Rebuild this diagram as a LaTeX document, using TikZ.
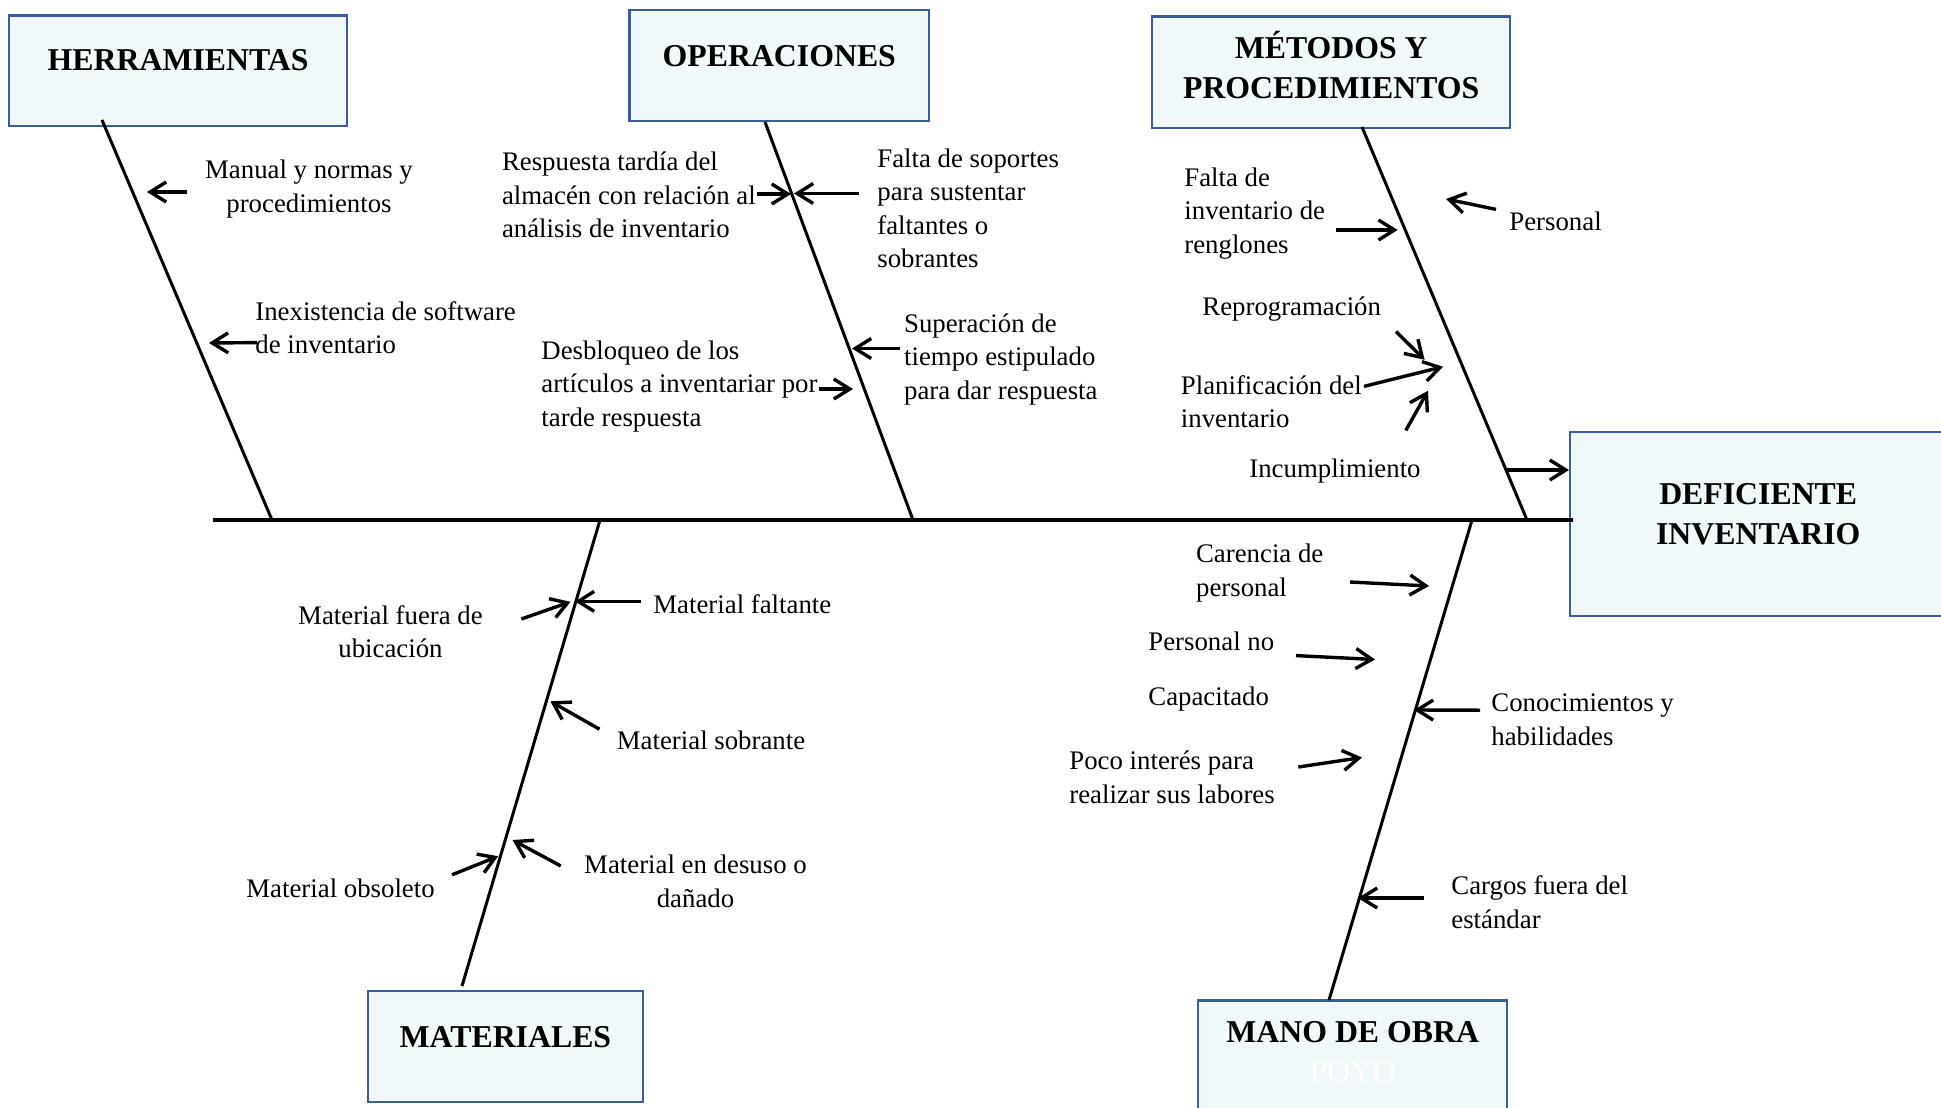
\documentclass[tikz,border=0pt]{standalone}
\usepackage{fontspec}
\setmainfont{Liberation Serif}
\usetikzlibrary{arrows.meta}
\definecolor{boxfill}{RGB}{240,248,250}
\definecolor{boxline}{RGB}{61,93,154}
\newcommand\hdfont{\fontsize{15.9}{20}\selectfont\bfseries}
\newcommand\hdbox[4]{\parbox[c][#2][t]{#1}{\centering\hdfont\vspace*{#3}\strut #4}}
\tikzset{
  catbox/.style={draw=boxline, fill=boxfill, line width=1.2pt, inner sep=0pt, anchor=north west},
  lbl/.style={font=\fontsize{13.4}{16.75}\selectfont, inner sep=0pt, align=left, anchor=north west, yshift=-2.5pt, execute at begin node=\strut},
  lblc/.style={lbl, align=center, anchor=north},
  bone/.style={line width=1.5pt},
  spine/.style={line width=1.8pt},
  arr/.style={line width=1.7pt, -{Straight Barb[length=8pt,width=10pt]}}
}
\begin{document}
\begin{tikzpicture}[x=0.5pt,y=-0.5pt]
\useasboundingbox (0,0) rectangle (1941,1107);
% category boxes
\node[catbox] (herr) at (8,14.5) {\hdbox{169pt}{55.25pt}{13.5pt}{HERRAMIENTAS}};
\node[catbox] (oper) at (628.4,8.6) {\hdbox{149.7pt}{55.6pt}{14.4pt}{OPERACIONES}};
\node[catbox] (meto) at (1151,15.5) {\hdbox{179pt}{55.6pt}{7pt}{MÉTODOS Y\\PROCEDIMIENTOS}};
\node[catbox] (defi) at (1569,431) {\hdbox{188pt}{92pt}{22pt}{DEFICIENTE\\INVENTARIO}};
\node[catbox] (mate) at (366.5,989.7) {\hdbox{137.75pt}{55.65pt}{14.35pt}{MATERIALES}};
\node[catbox] (mano) at (1197,999.4) {\hdbox{154.5pt}{56pt}{7pt}{MANO DE OBRA\\{\color{white}\mdseries POYO}}};
% spine and bones
\coordinate (sp1) at (213,520);
\coordinate (sp2) at (1573,520);
\draw[spine] (sp1) -- (sp2);
\coordinate (b1t) at (102,120);  \coordinate (b1b) at (272,520);
\coordinate (b2t) at (765,122);  \coordinate (b2b) at (913,520);
\coordinate (b3t) at (1362,127); \coordinate (b3b) at (1527,520);
\coordinate (b4t) at (600,520);  \coordinate (b4b) at (462,986);
\coordinate (b5t) at (1472,520); \coordinate (b5b) at (1329,1000);
\draw[bone] (b1t) -- (b1b);
\draw[bone] (b2t) -- (b2b);
\draw[bone] (b3t) -- (b3b);
\draw[bone] (b4t) -- (b4b);
\draw[bone] (b5t) -- (b5b);
% labels
\node[lblc] (t1) at (309,155) {Manual y normas y\\procedimientos};
\node[lbl] (t2) at (255,296) {Inexistencia de software\\de inventario};
\node[lbl] (t3) at (501.6,146.5) {Respuesta tardía del\\almacén con relación al\\análisis de inventario};
\node[lbl] (t4) at (877,143.5) {Falta de soportes\\para sustentar\\faltantes o\\sobrantes};
\node[lbl] (t5) at (541,335.5) {Desbloqueo de los\\artículos a inventariar por\\tarde respuesta};
\node[lbl] (t6) at (903.7,308.2) {Superación de\\tiempo estipulado\\para dar respuesta};
\node[lbl] (t7) at (1184,162.5) {Falta de\\inventario de\\renglones};
\node[lbl] (t8) at (1509,201.5) {Personal};
\node[lbl] (t9) at (1202,287) {Reprogramación};
\node[lbl] (t10) at (1180.5,370.2) {Planificación del\\inventario};
\node[lbl] (t11) at (1249,448.3) {Incumplimiento};
\node[lblc] (t12) at (390.5,600) {Material fuera de\\ubicación};
\node[lbl] (t13) at (653,585) {Material faltante};
\node[lbl] (t14) at (616.5,720.8) {Material sobrante};
\node[lbl] (t15) at (246,868.8) {Material obsoleto};
\node[lblc] (t16) at (695.5,849.5) {Material en desuso o\\dañado};
\node[lbl] (t17) at (1195.7,538.7) {Carencia de\\personal};
\node[lbl] (t18) at (1148,621.8) {Personal no};
\node[lbl] (t19) at (1148,676.7) {Capacitado};
\node[lbl] (t20) at (1069,745.8) {Poco interés para\\realizar sus labores};
\node[lbl] (t21) at (1491,688.5) {Conocimientos y\\habilidades};
\node[lbl] (t22) at (1451,870.5) {Cargos fuera del\\estándar};
% arrows
\coordinate (a1s) at (186.6,192);  \coordinate (a1e) at (147,192);
\coordinate (a2s) at (257,342.6);  \coordinate (a2e) at (209,343);
\coordinate (a3s) at (757,194);    \coordinate (a3e) at (791,194);
\coordinate (a4s) at (859,193.5);  \coordinate (a4e) at (794,193.5);
\coordinate (a5s) at (819,389);    \coordinate (a5e) at (853,389);
\coordinate (a6s) at (899.6,348.5);\coordinate (a6e) at (852,348.5);
\coordinate (a7s) at (1336,230);   \coordinate (a7e) at (1397.7,230);
\coordinate (a8s) at (1496,209.4); \coordinate (a8e) at (1446,199);
\coordinate (a9s) at (1396,331.6); \coordinate (a9e) at (1424.6,359.8);
\coordinate (a10s) at (1364,386.4);\coordinate (a10e) at (1443,366.7);
\coordinate (a11s) at (1405.8,430.4);\coordinate (a11e) at (1428,390.8);
\coordinate (a12s) at (1506,470);
\coordinate (a13s) at (521.4,619); \coordinate (a13e) at (570.5,601.8);
\coordinate (a14s) at (641,601.4); \coordinate (a14e) at (575,601.4);
\coordinate (a15s) at (599.5,729.2);\coordinate (a15e) at (550.4,701.3);
\coordinate (a16s) at (452,874.8); \coordinate (a16e) at (498.2,856.2);
\coordinate (a17s) at (560.7,865.9);\coordinate (a17e) at (512.5,840);
\coordinate (a18s) at (1350,582);  \coordinate (a18e) at (1429,586);
\coordinate (a19s) at (1296,655.6);\coordinate (a19e) at (1375,659.5);
\coordinate (a20s) at (1298.3,767);\coordinate (a20e) at (1362,757.5);
\coordinate (a21s) at (1480,710.2);\coordinate (a21e) at (1414,710);
\coordinate (a22s) at (1424,898);  \coordinate (a22e) at (1358,898);
\draw[arr] (a1s) -- (a1e);
\draw[arr] (a2s) -- (a2e);
\draw[arr] (a3s) -- (a3e);
\draw[arr] (a4s) -- (a4e);
\draw[arr] (a5s) -- (a5e);
\draw[arr] (a6s) -- (a6e);
\draw[arr] (a7s) -- (a7e);
\draw[arr] (a8s) -- (a8e);
\draw[arr] (a9s) -- (a9e);
\draw[arr] (a10s) -- (a10e);
\draw[arr] (a11s) -- (a11e);
\draw[arr] (a12s) -- (a12s -| defi.west);
\draw[arr] (a13s) -- (a13e);
\draw[arr] (a14s) -- (a14e);
\draw[arr] (a15s) -- (a15e);
\draw[arr] (a16s) -- (a16e);
\draw[arr] (a17s) -- (a17e);
\draw[arr] (a18s) -- (a18e);
\draw[arr] (a19s) -- (a19e);
\draw[arr] (a20s) -- (a20e);
\draw[arr] (a21s) -- (a21e);
\draw[arr] (a22s) -- (a22e);
\end{tikzpicture}
\end{document}
